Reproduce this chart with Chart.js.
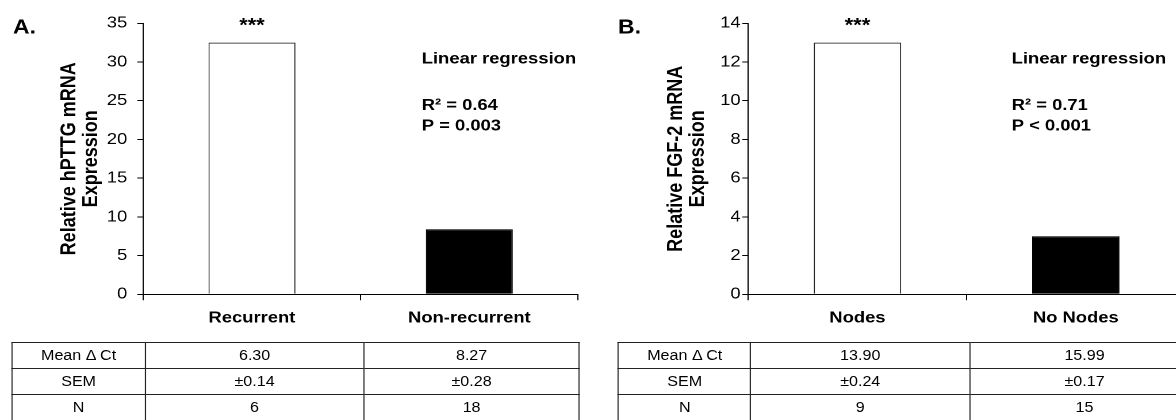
<!DOCTYPE html>
<html>
<head>
<meta charset="utf-8">
<script src="https://cdn.jsdelivr.net/npm/chart.js@4.4.0/dist/chart.umd.min.js"></script>
<style>
  html, body { margin: 0; padding: 0; background: #fff; overflow: hidden; width: 1176px; height: 420px; }
  /* the source figure is stretched sideways, so the whole page is too */
  #page { position: absolute; left: 0; top: 0; width: 1023px; height: 420px; transform: scaleX(1.15); transform-origin: 0 0; font-family: "Liberation Sans", Arial, sans-serif; }
  canvas { position: absolute; top: 0; }
  #chartA { left: 0; }
  #chartB { left: 511px; }
  table.stats { position: absolute; top: 341.5px; border-collapse: collapse; table-layout: fixed; font-size: 14px; color: #000; }
  table.stats tr { height: 26px; }
  table.stats td { border: 1px solid #222; padding: 0; text-align: center; vertical-align: middle; white-space: nowrap; }
  #tableA { left: 9.6px; }
  #tableB { left: 537.4px; }
</style>
</head>
<body>
<div id="page">
  <canvas id="chartA" width="511" height="340"></canvas>
  <canvas id="chartB" width="522" height="340"></canvas>
  <table id="tableA" class="stats"></table>
  <table id="tableB" class="stats"></table>
</div>
<script>
const labelsA = ['Recurrent', 'Non-recurrent']
const valuesA = [32.5, 8.4]
const labelsB = ['Nodes', 'No Nodes']
const valuesB = [13.0, 3.0]
const yMaxA = 35
const yStepA = 5
const yMaxB = 14
const yStepB = 2
const yTitleA = ['Relative hPTTG mRNA', 'Expression']
const yTitleB = ['Relative FGF-2 mRNA', 'Expression']
const regressionA = ['Linear regression', 'R² = 0.64', 'P = 0.003']
const regressionB = ['Linear regression', 'R² = 0.71', 'P < 0.001']
const starsA = '***'
const starsB = '***'
const rowNames = ['Mean Δ Ct', 'SEM', 'N']
const meanCtA = ['6.30', '8.27']
const semA = ['±0.14', '±0.28']
const nA = ['6', '18']
const meanCtB = ['13.90', '15.99']
const semB = ['±0.24', '±0.17']
const nB = ['9', '15']

const FONT = '"Liberation Sans", Arial, sans-serif'
Chart.defaults.font.family = FONT
Chart.defaults.color = '#000'

// panel letter, stars over the first bar and the regression note
const notesPlugin = {
  id: 'notes',
  afterDraw (chart) {
    const o = chart.options.plugins.notes
    const ctx = chart.ctx
    const bar = chart.getDatasetMeta(0).data[0]
    ctx.save()
    ctx.fillStyle = '#000'
    ctx.textBaseline = 'alphabetic'
    ctx.textAlign = 'left'
    ctx.font = 'bold 20px ' + FONT
    ctx.fillText(o.letter, o.letterX, 33.3)
    ctx.textAlign = 'center'
    ctx.font = 'bold 19px ' + FONT
    ctx.fillText(o.stars, bar.x, bar.y - 11)
    ctx.textAlign = 'left'
    ctx.font = 'bold 16px ' + FONT
    ctx.fillText(o.text[0], o.textX, 63.5)
    ctx.fillText(o.text[1], o.textX, 110)
    ctx.fillText(o.text[2], o.textX, 130.7)
    ctx.restore()
  }
}

function createChart (canvasId, labels, values, yMax, yStep, yTitle, o) {
  const ctx = document.getElementById(canvasId).getContext('2d')
  return new Chart(ctx, {
    type: 'bar',
    data: {
      labels: labels,
      datasets: [{
        data: values,
        backgroundColor: ['#fff', '#000'],
        borderColor: ['#222', '#000'],
        borderWidth: 1,
        borderSkipped: 'bottom',
        categoryPercentage: 1,
        barPercentage: 0.4
      }]
    },
    options: {
      responsive: false,
      animation: false,
      devicePixelRatio: 2,
      layout: { padding: { left: 0, top: 23.3, right: o.padRight, bottom: 0 } },
      plugins: {
        legend: { display: false },
        tooltip: { enabled: false },
        notes: o.notes
      },
      scales: {
        x: {
          offset: true,
          grid: { offset: true, drawOnChartArea: false, drawTicks: true, tickLength: 6, color: '#000' },
          border: { color: '#000', width: 1 },
          ticks: { color: '#000', font: { size: 16, weight: 'bold' }, padding: 8, maxRotation: 0 },
          afterFit (scale) { scale.height = 340 - 294.3 }
        },
        y: {
          min: 0,
          max: yMax,
          grid: { drawOnChartArea: false, tickLength: 5.2, color: '#000' },
          border: { color: '#000', width: 1 },
          ticks: { stepSize: yStep, color: '#000', font: { size: 16 }, padding: o.tickPad },
          title: {
            display: true,
            text: yTitle,
            color: '#000',
            font: { size: 18, weight: 'bold', lineHeight: '19px' },
            padding: { top: o.titlePad, bottom: 0 }
          },
          afterFit (scale) { scale.width = o.axisLeft }
        }
      }
    },
    plugins: [notesPlugin]
  })
}

function buildTable (tableId, widths, columns) {
  const table = document.getElementById(tableId)
  const colgroup = document.createElement('colgroup')
  let total = 0
  widths.forEach(function (w) {
    const col = document.createElement('col')
    col.style.width = w + 'px'
    colgroup.appendChild(col)
    total += w
  })
  table.style.width = total + 'px'
  table.appendChild(colgroup)
  const tbody = document.createElement('tbody')
  rowNames.forEach(function (name, i) {
    const tr = document.createElement('tr')
    const cells = [name, columns[i][0], columns[i][1]]
    cells.forEach(function (text) {
      const td = document.createElement('td')
      td.textContent = text
      tr.appendChild(td)
    })
    tbody.appendChild(tr)
  })
  table.appendChild(tbody)
}

createChart('chartA', labelsA, valuesA, yMaxA, yStepA, yTitleA, {
  padRight: 8.4,
  axisLeft: 124.6,
  tickPad: 8.7,
  titlePad: 50.8,
  notes: { letter: 'A.', letterX: 11.3, stars: starsA, text: regressionA, textX: 366.7 }
})

createChart('chartB', labelsB, valuesB, yMaxB, yStepB, yTitleB, {
  padRight: 2.6,
  axisLeft: 139.7,
  tickPad: 1.5,
  titlePad: 67.3,
  notes: { letter: 'B.', letterX: 26.4, stars: starsB, text: regressionB, textX: 368.7 }
})

buildTable('tableA', [116.5, 189.6, 187.8], [meanCtA, semA, nA])
buildTable('tableB', [115.1, 190.1, 200], [meanCtB, semB, nB])
</script>
</body>
</html>
